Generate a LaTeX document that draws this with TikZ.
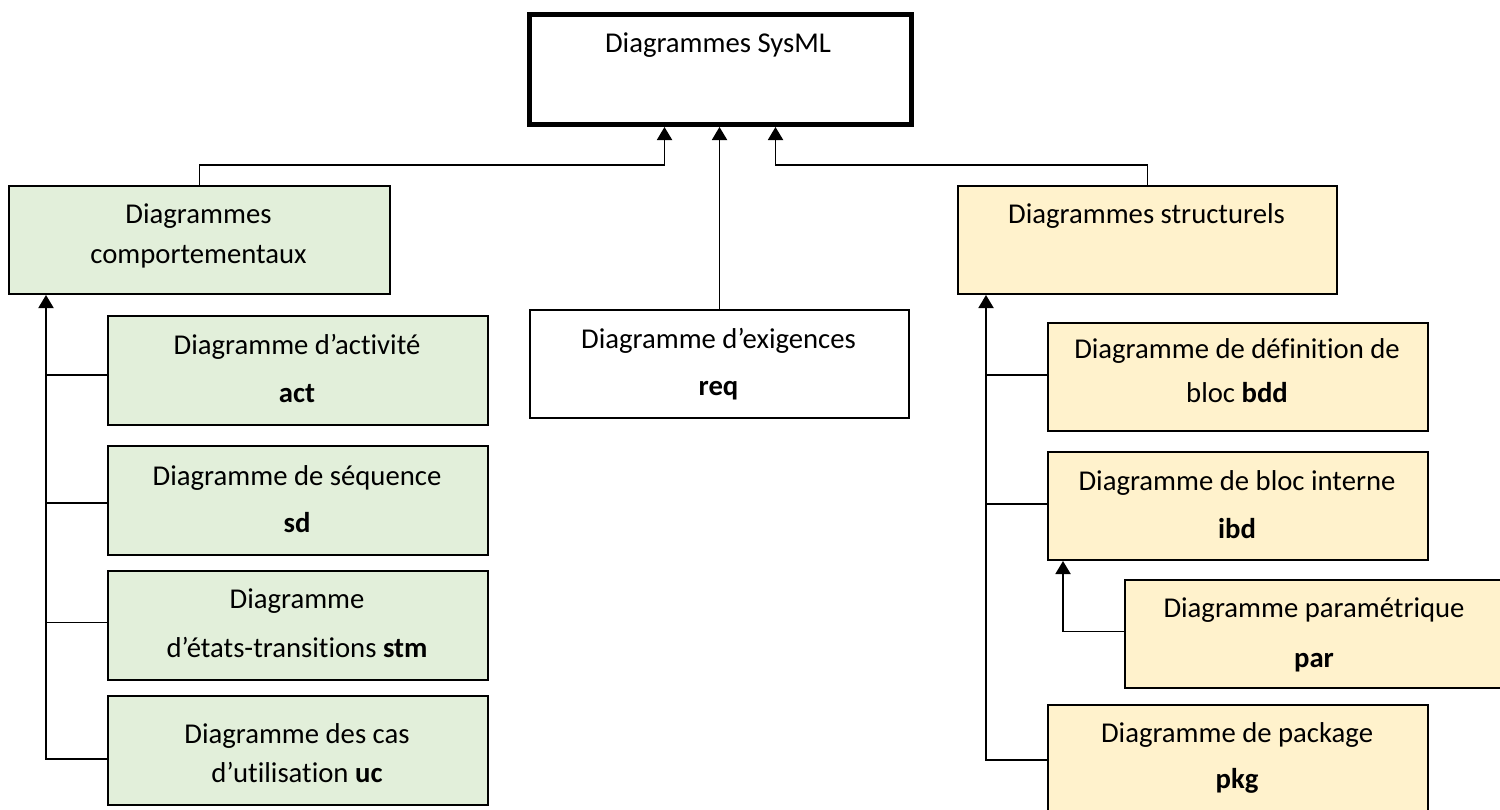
\documentclass[tikz,border=0pt]{standalone}
\usepackage{fontspec}
\setmainfont{Carlito}[Ligatures={NoCommon}]
\usetikzlibrary{arrows.meta,calc}
\definecolor{bgreen}{HTML}{E2EFDA}
\definecolor{syellow}{HTML}{FFF2CC}
\begin{document}
\begin{tikzpicture}[x=1pt,y=-1pt,
  box/.style={draw=black,line width=2pt,rectangle,anchor=north west,inner sep=0pt,
    minimum width=380pt,minimum height=108pt},
  topbox/.style={box,line width=5pt,fill=white,minimum width=382pt,minimum height=110pt},
  whitebox/.style={box,fill=white},
  greenbox/.style={box,fill=bgreen},
  yellowbox/.style={box,fill=syellow},
  txt/.style={anchor=base,inner sep=0pt,font=\fontsize{28.7}{34}\selectfont},
  conn/.style={line width=1.9pt,draw=black},
  arr/.style={conn,-{Triangle[width=15pt,length=13pt]}}
]
\useasboundingbox (0,0) rectangle (1500,809);

% boxes
\node[topbox] (top) at (527,12) {};
\node[greenbox,minimum width=381pt] (beh) at (8,185) {};
\node[whitebox,minimum width=379pt] (req) at (529,309) {};
\node[yellowbox,minimum width=379pt] (str) at (957,185) {};

\node[greenbox,minimum height=109pt] (act) at (107,315) {};
\node[greenbox,minimum height=109pt] (sd) at (107,445) {};
\node[greenbox,minimum height=109pt] (stm) at (107,570) {};
\node[greenbox,minimum height=109pt] (uc) at (107,695) {};

\node[yellowbox] (bdd) at (1047,322) {};
\node[yellowbox] (ibd) at (1047,451) {};
\node[yellowbox] (par) at (1124,579) {};
\node[yellowbox,minimum height=110pt] (pkg) at (1047,704) {};

% texts
\node[txt] (ttop) at (718,52) {Diagrammes SysML};
\node[txt] (tbeh1) at (198.5,223) {Diagrammes};
\node[txt] (tbeh2) at (198.5,263) {comportementaux};
\node[txt] (tstr) at (1146.5,223) {Diagrammes structurels};
\node[txt] (treq1) at (718.5,348) {Diagramme d’exigences};
\node[txt] (treq2) at (718.5,395) {\textbf{req}};

\node[txt] (tact1) at (297,354) {Diagramme d’activité};
\node[txt] (tact2) at (297,402) {\textbf{act}};
\node[txt] (tsd1) at (297,485) {Diagramme de séquence};
\node[txt] (tsd2) at (297,532) {\textbf{sd}};
\node[txt] (tstm1) at (297,608) {Diagramme};
\node[txt] (tstm2) at (297,657) {d’états-transitions \textbf{stm}};
\node[txt] (tuc1) at (297,743) {Diagramme des cas};
\node[txt] (tuc2) at (297,782) {d’utilisation \textbf{uc}};

\node[txt] (tbdd1) at (1237,358) {Diagramme de définition de};
\node[txt] (tbdd2) at (1237,402) {bloc \textbf{bdd}};
\node[txt] (tibd1) at (1237,490) {Diagramme de bloc interne};
\node[txt] (tibd2) at (1237,538) {\textbf{ibd}};
\node[txt] (tpar1) at (1314,617) {Diagramme paramétrique};
\node[txt] (tpar2) at (1314,667) {\textbf{par}};
\node[txt] (tpkg1) at (1237,742) {Diagramme de package};
\node[txt] (tpkg2) at (1237,788) {\textbf{pkg}};

% connectors to the top box
\draw[arr] (beh.north) |- ([xshift=-56pt,yshift=-38pt]top.south) -- ([xshift=-56pt]top.south);
\draw[arr] (req.north) -- (req.north |- top.south);
\draw[arr] (str.north) |- ([xshift=55pt,yshift=-38pt]top.south) -- ([xshift=55pt]top.south);

% left tree
\coordinate (lt) at ([xshift=38pt]beh.south west);
\draw[arr] ([yshift=-8.5pt]uc.west) -| (lt);
\draw[conn] ([yshift=-4.5pt]act.west) -- ([yshift=-4.5pt]act.west -| lt);
\draw[conn] ([yshift=-2.5pt]sd.west) -- ([yshift=-2.5pt]sd.west -| lt);
\draw[conn] ([yshift=3pt]stm.west) -- ([yshift=3pt]stm.west -| lt);

% right tree
\coordinate (rt) at ([xshift=29pt]str.south west);
\draw[arr] (pkg.west) -| (rt);
\draw[conn] ([yshift=2pt]bdd.west) -- ([yshift=2pt]bdd.west -| rt);
\draw[conn] ([yshift=2pt]ibd.west) -- ([yshift=2pt]ibd.west -| rt);
\draw[arr] ([yshift=2.5pt]par.west) -| ([xshift=16pt]ibd.south west);
\end{tikzpicture}
\end{document}
